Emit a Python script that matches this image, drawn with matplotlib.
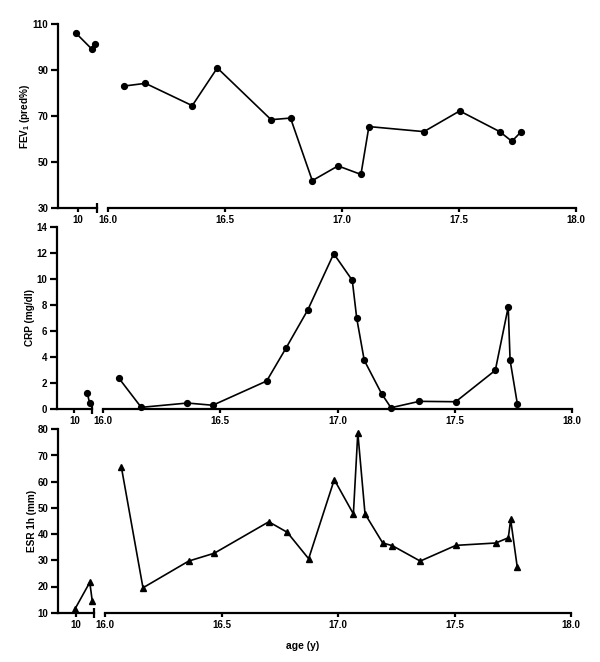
import matplotlib
matplotlib.use('Agg')
import matplotlib.pyplot as plt

plt.rcParams['font.family'] = ['Liberation Sans', 'DejaVu Sans']
plt.rcParams['font.weight'] = 'bold'
plt.rcParams['mathtext.default'] = 'regular'

# ages (y) in the early window and the 16-18 window
fev_age_early = [9.97, 10.22, 10.27]
fev_early = [106.2, 99.1, 101.4]
fev_age = [16.067, 16.16, 16.36, 16.467, 16.697, 16.78, 16.873, 16.983, 17.081,
           17.115, 17.35, 17.503, 17.674, 17.726, 17.766]
fev = [83.0, 84.2, 74.5, 90.9, 68.4, 69.1, 41.9, 48.3, 44.6, 65.4, 63.2, 72.2,
       63.2, 59.0, 63.2]

crp_age_early = [10.22, 10.26]
crp_early = [1.23, 0.46]
crp_age = [16.068, 16.163, 16.36, 16.468, 16.698, 16.78, 16.873, 16.984, 17.063,
           17.082, 17.114, 17.188, 17.228, 17.349, 17.504, 17.673, 17.728, 17.736,
           17.767]
crp = [2.38, 0.15, 0.48, 0.31, 2.17, 4.68, 7.61, 11.93, 9.89, 6.98, 3.76, 1.2,
       0.12, 0.61, 0.58, 2.99, 7.84, 3.76, 0.41]

esr_age_early = [9.98, 10.23, 10.27]
esr_early = [11.3, 21.6, 14.6]
esr_age = [16.07, 16.163, 16.359, 16.469, 16.703, 16.782, 16.874, 16.984, 17.066,
           17.085, 17.116, 17.192, 17.233, 17.353, 17.506, 17.677, 17.731, 17.741,
           17.769]
esr = [65.7, 19.5, 29.7, 32.7, 44.7, 40.7, 30.6, 60.8, 47.7, 78.7, 47.7, 36.6,
       35.6, 29.7, 35.7, 36.6, 38.6, 45.6, 27.6]

W, H = 600, 662
fig = plt.figure(figsize=(W / 100, H / 100), dpi=100)


def rect(x0, x1, ytop, ybot):
    return [x0 / W, 1 - ybot / H, (x1 - x0) / W, (ybot - ytop) / H]


def style(ax):
    for s in ['top', 'right']:
        ax.spines[s].set_visible(False)
    for s in ['left', 'bottom']:
        ax.spines[s].set_linewidth(1.6)
    ax.tick_params(width=1.6, labelsize=7, pad=2)
    ax.tick_params(axis='x', length=3)
    ax.tick_params(axis='y', length=5)
    ax.tick_params(which='minor', width=1.6, length=7, direction='inout')
    for lab in ax.get_xticklabels() + ax.get_yticklabels():
        lab.set_fontweight('bold')


def panel(xl, xr, ytop, ybot, ages_e, vals_e, ages, vals, ylim, yticks,
          ylabel, marker, ms, label_x):
    axl = fig.add_axes(rect(xl[0], xl[1], ytop, ybot))
    axr = fig.add_axes(rect(xr[0], xr[1], ytop, ybot))
    for ax in (axl, axr):
        ax.set_ylim(*ylim)
    axl.plot(ages_e, vals_e, color='black', lw=1.2, marker=marker, ms=ms,
             clip_on=False)
    axr.plot(ages, vals, color='black', lw=1.2, marker=marker, ms=ms,
             clip_on=False)
    axl.set_xlim(9.7, 10.3)
    axl.set_xticks([10])
    axl.set_xticks([10.3], minor=True)
    axl.set_yticks(yticks)
    axr.set_xlim(16.0, 18.0)
    axr.set_xticks([16.0, 16.5, 17.0, 17.5, 18.0])
    axr.set_xticklabels(['16.0', '16.5', '17.0', '17.5', '18.0'])
    axr.set_xticks([16.0, 18.0], minor=True)
    axr.set_yticks([])
    axr.spines['left'].set_visible(False)
    style(axl)
    style(axr)
    fig.text(label_x / W, 1 - (ytop + ybot) / 2 / H, ylabel, rotation=90,
             ha='center', va='center', fontsize=7.2, fontweight='bold')


panel((58, 97), (108, 576), 24, 208, fev_age_early, fev_early, fev_age, fev,
      (30, 110), [30, 50, 70, 90, 110], r'FEV$_1$ (pred%)', 'o', 4.2, 25)
panel((57, 92), (103, 572), 226.7, 409.3, crp_age_early, crp_early, crp_age, crp,
      (0, 14), [0, 2, 4, 6, 8, 10, 12, 14], 'CRP (mg/dl)', 'o', 4.2, 30)
panel((58, 94), (105, 571), 429.3, 612.7, esr_age_early, esr_early, esr_age, esr,
      (10, 80), [10, 20, 30, 40, 50, 60, 70, 80], 'ESR 1h (mm)', '^', 4.2, 32)

fig.text(303 / W, 1 - 646 / H, 'age (y)', ha='center', va='center',
         fontsize=7.5, fontweight='bold')

fig.savefig('out.png', dpi=100)
